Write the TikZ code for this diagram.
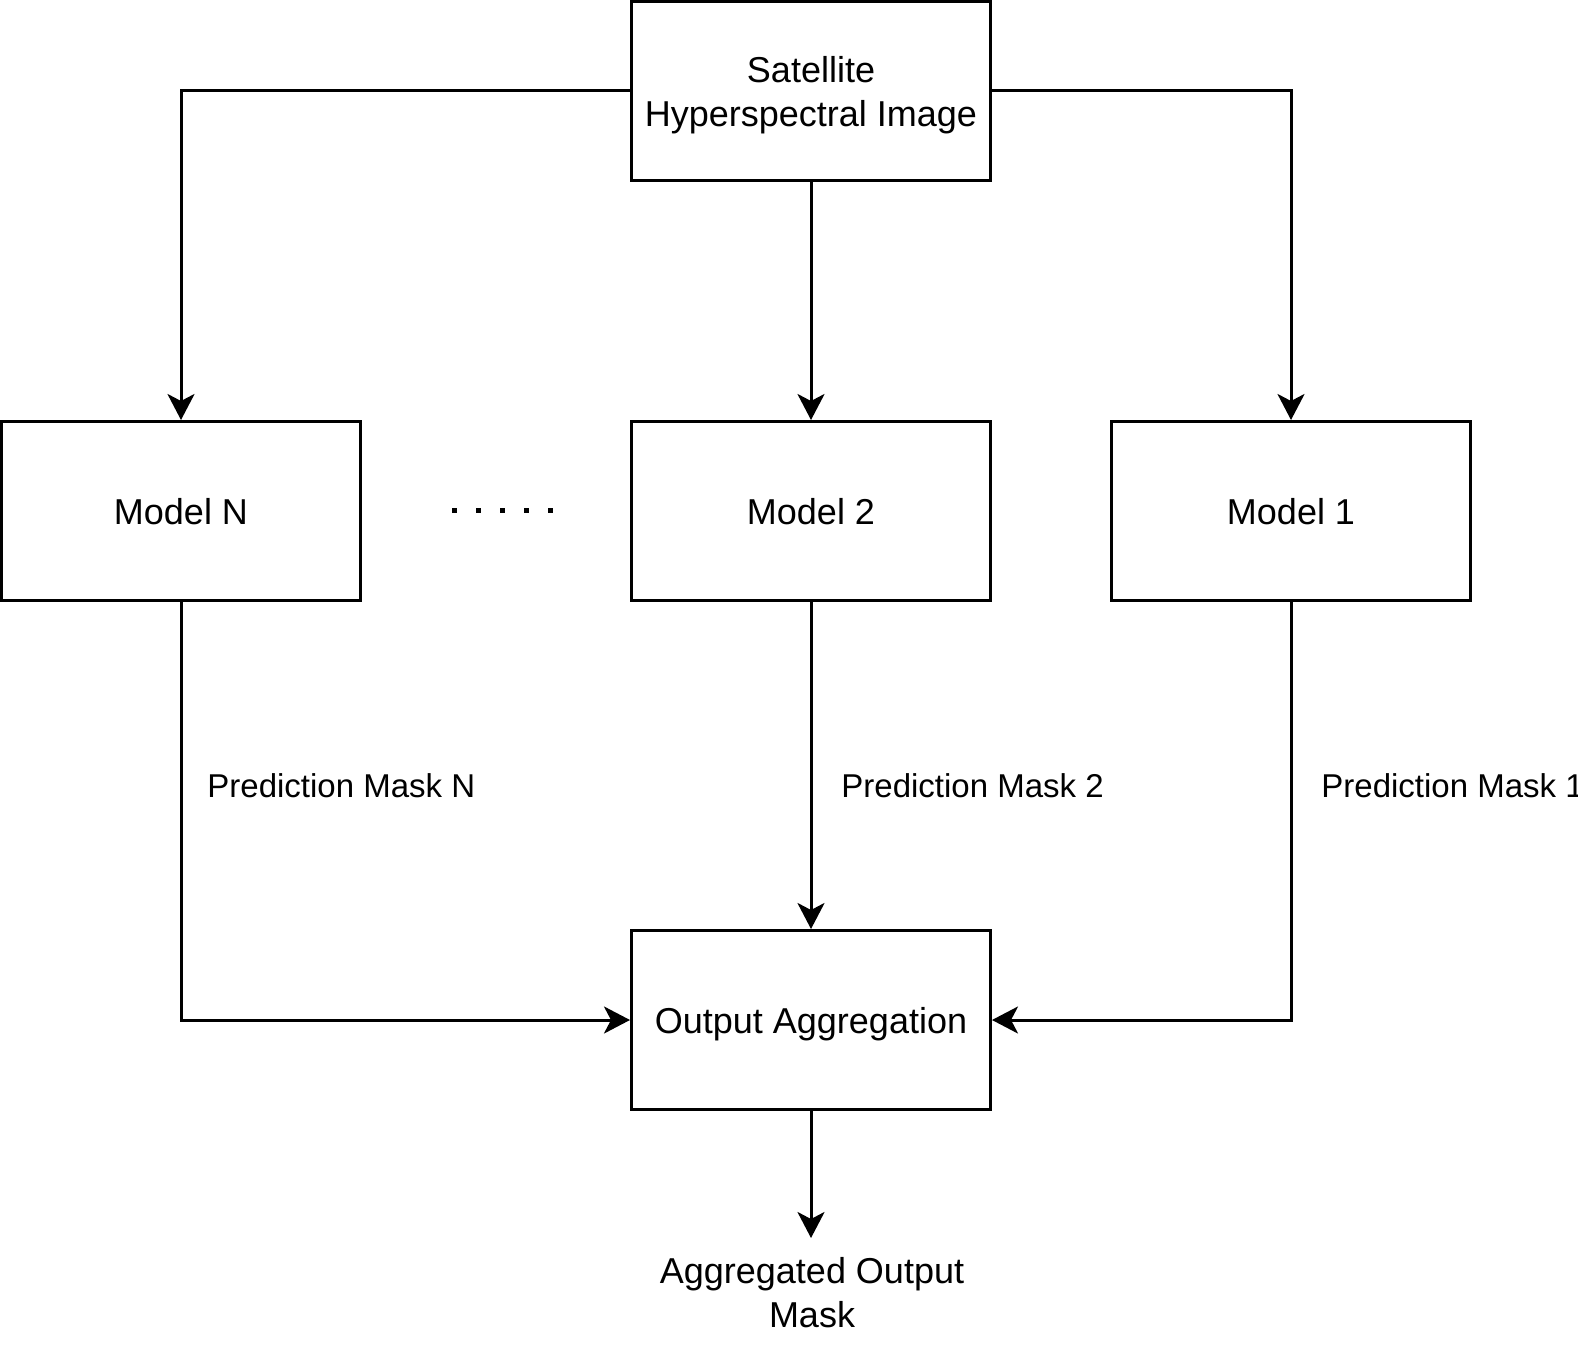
\documentclass[tikz,border=0pt]{standalone}
\usepackage{fontspec}
\setmainfont{Liberation Sans}
\usetikzlibrary{arrows.meta}
\begin{document}
\begin{tikzpicture}[x=0.5pt,y=-0.5pt,
  box/.style={draw=black,line width=1.5pt,minimum width=179.5pt,minimum height=89.5pt,inner sep=0pt,align=center,text depth=0pt,font=\fontsize{18pt}{22pt}\selectfont},
  lbl/.style={inner sep=0pt,font=\fontsize{16.5pt}{22pt}\selectfont},
  conn/.style={line width=1.5pt,-{Stealth[length=13pt,width=13.5pt,inset=3.5pt]}}]
\useasboundingbox (0,0) rectangle (1578,1353);
\node[box] (sat) at (811,91) {Satellite\\Hyperspectral Image};
\node[box] (mN) at (181,511) {Model N};
\node[box] (m2) at (811,511) {Model 2};
\node[box] (m1) at (1291,511) {Model 1};
\node[box] (agg) at (811,1020) {Output Aggregation};
\coordinate (out) at (811,1238);
\node[lbl,anchor=north,align=center,font=\fontsize{18pt}{22pt}\selectfont] (outtxt) at (812,1257) {Aggregated Output\\Mask};
\node[lbl,anchor=west] (pN) at (207,786) {Prediction Mask N};
\node[lbl,anchor=west] (p2) at (841,786) {Prediction Mask 2};
\node[lbl,anchor=west] (p1) at (1321,786) {Prediction Mask 1};
\foreach \i in {0,...,4}{
  \fill ({451.5+24*\i},507.5) rectangle ++(5,5);
}
\draw[conn] (sat.west) -| (mN.north);
\draw[conn] (sat.south) -- (m2.north);
\draw[conn] (sat.east) -| (m1.north);
\draw[conn] (mN.south) |- (agg.west);
\draw[conn] (m2.south) -- (agg.north);
\draw[conn] (m1.south) |- (agg.east);
\draw[conn] (agg.south) -- (out);
\end{tikzpicture}
\end{document}
